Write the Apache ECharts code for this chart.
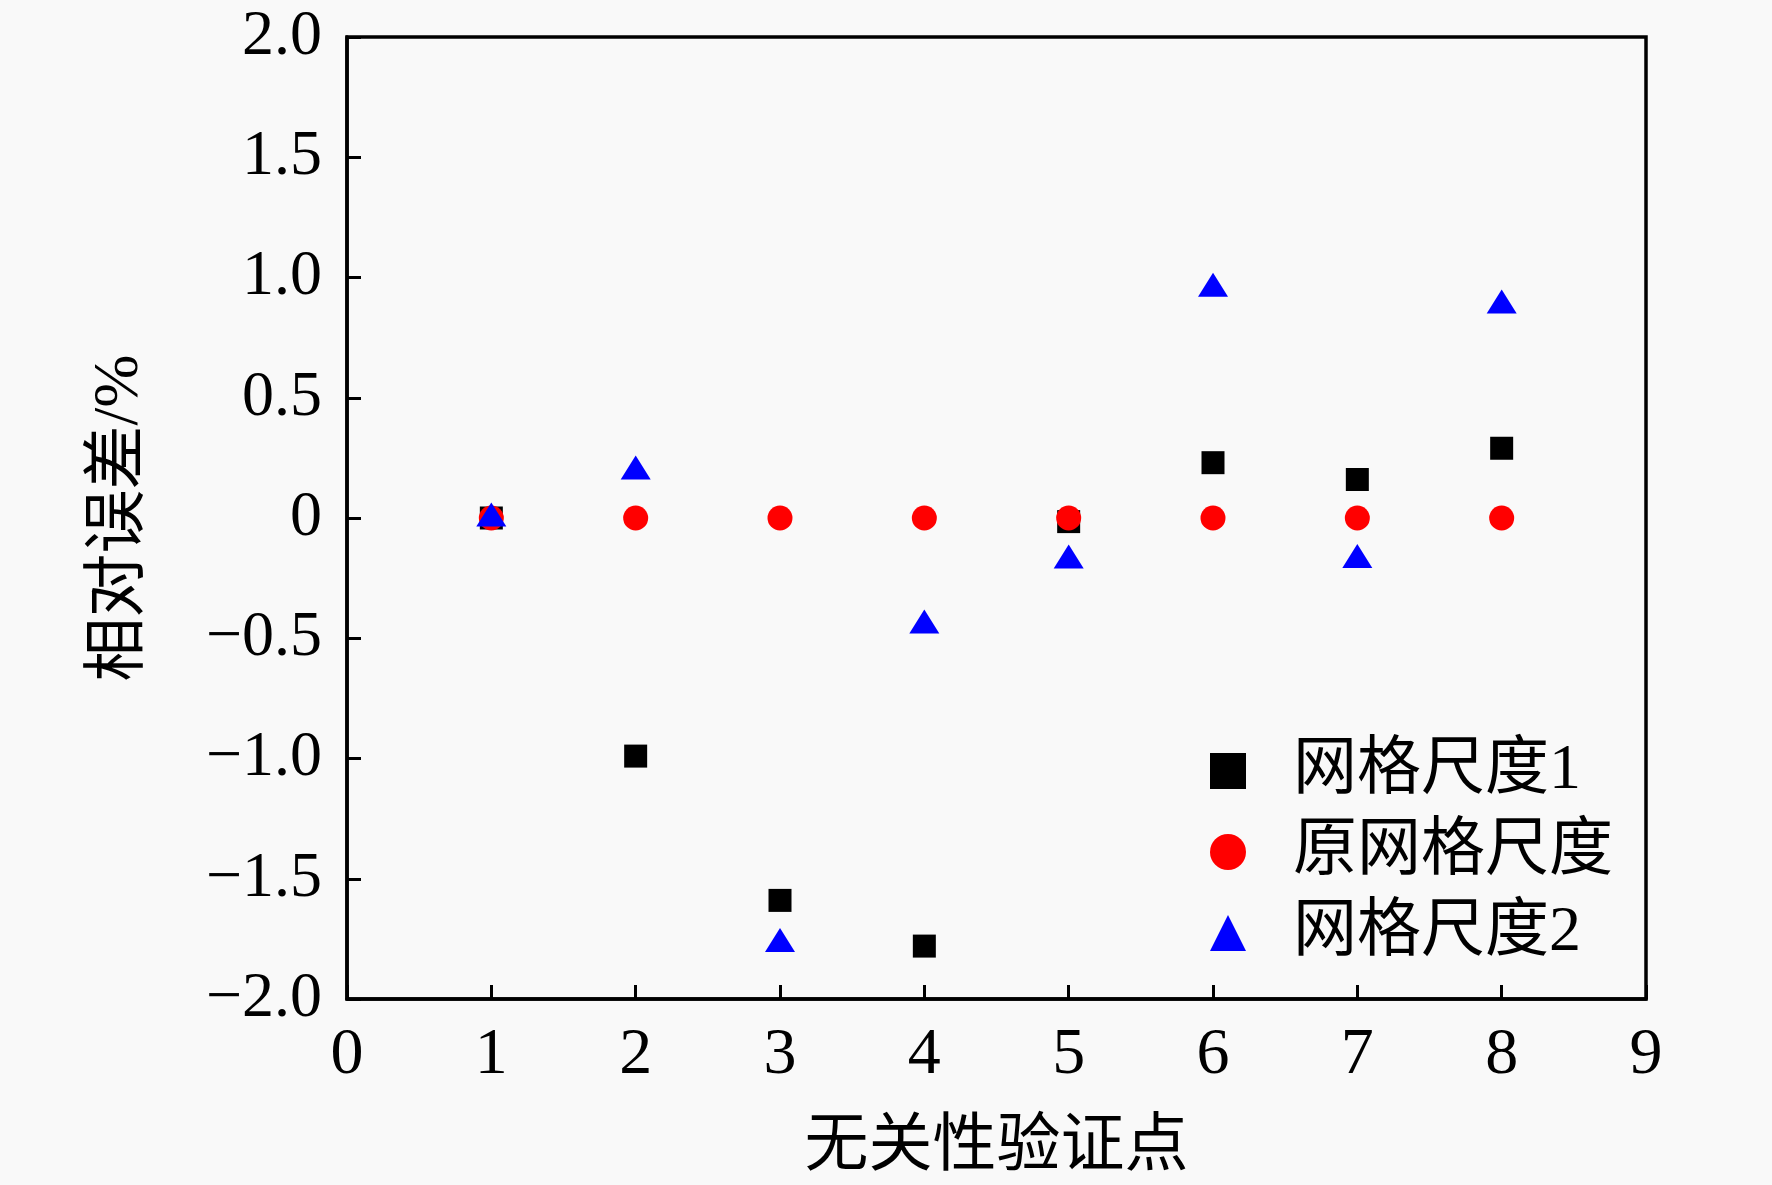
<!DOCTYPE html>
<html>
<head>
<meta charset="utf-8">
<script src="https://cdn.jsdelivr.net/npm/echarts@6/dist/echarts.min.js"></script>
<style>
html,body{margin:0;padding:0;background:#f9f9f9;}
#chart{width:1772px;height:1185px;}
</style>
</head>
<body>
<div id="chart"></div>
<script>
// ---- data ----
const points = [1, 2, 3, 4, 5, 6, 7, 8];
const seriesNames = ['网格尺度1', '原网格尺度', '网格尺度2'];
const mesh1 = [0.0, -0.99, -1.59, -1.78, -0.015, 0.23, 0.16, 0.29];
const meshOrig = [0, 0, 0, 0, 0, 0, 0, 0];
const mesh2 = [0.015, 0.21, -1.755, -0.43, -0.16, 0.97, -0.158, 0.90];
const xTicks = [0, 1, 2, 3, 4, 5, 6, 7, 8, 9];
const yTicks = [-2.0, -1.5, -1.0, -0.5, 0, 0.5, 1.0, 1.5, 2.0];
const xTitle = '无关性验证点';
const yTitle = '相对误差/%';

const FONT = "'Liberation Serif', 'Times New Roman', 'Noto Sans CJK SC', serif";
const pair = (ys) => points.map((x, i) => [x, ys[i]]);

const chart = echarts.init(document.getElementById('chart'), null, {renderer: 'canvas'});
chart.setOption({
  backgroundColor: '#f9f9f9',
  animation: false,
  textStyle: {fontFamily: FONT, color: '#000'},
  grid: {
    left: 347, top: 37, right: 126, bottom: 184,
    show: true, borderColor: '#000', borderWidth: 3.5,
    backgroundColor: 'transparent', containLabel: false
  },
  xAxis: {
    type: 'value', min: xTicks[0], max: xTicks[xTicks.length - 1], interval: 1,
    name: xTitle, nameLocation: 'middle', nameGap: 117,
    nameTextStyle: {fontFamily: FONT, fontSize: 64, color: '#000'},
    axisLine: {show: true, onZero: false, lineStyle: {color: '#000', width: 3.5}},
    axisTick: {show: true, inside: true, length: 14, lineStyle: {color: '#000', width: 3}},
    axisLabel: {fontFamily: FONT, fontSize: 66, color: '#000', margin: 24},
    splitLine: {show: false}
  },
  yAxis: {
    type: 'value', min: yTicks[0], max: yTicks[yTicks.length - 1], interval: 0.5,
    name: yTitle, nameLocation: 'middle', nameRotate: 90, nameGap: 195,
    nameTextStyle: {fontFamily: FONT, fontSize: 64, color: '#000'},
    axisLine: {show: true, onZero: false, lineStyle: {color: '#000', width: 3.5}},
    axisTick: {show: true, inside: true, length: 14, lineStyle: {color: '#000', width: 3}},
    axisLabel: {
      fontFamily: FONT, fontSize: 64, color: '#000', margin: 25,
      formatter: v => v === 0 ? '0' : (v < 0 ? '\u2212' + Math.abs(v).toFixed(1) : v.toFixed(1))
    },
    splitLine: {show: false}
  },
  legend: {
    orient: 'vertical', left: 1210, top: 739, padding: 0,
    itemWidth: 36, itemHeight: 36, itemGap: 17,
    textStyle: {fontFamily: FONT, fontSize: 64, color: '#000', lineHeight: 64, padding: [0, 0, 0, 42]},
    data: seriesNames
  },
  series: [
    {name: seriesNames[0], type: 'scatter', symbol: 'rect', symbolSize: 23,
     itemStyle: {color: '#000000', opacity: 1}, data: pair(mesh1), z: 2},
    {name: seriesNames[1], type: 'scatter', symbol: 'circle', symbolSize: 25,
     itemStyle: {color: '#ff0000', opacity: 1}, data: pair(meshOrig), z: 3},
    {name: seriesNames[2], type: 'scatter', symbol: 'triangle', symbolSize: [30, 24],
     itemStyle: {color: '#0000ff', opacity: 1}, data: pair(mesh2), z: 4}
  ]
});
</script>
</body>
</html>
